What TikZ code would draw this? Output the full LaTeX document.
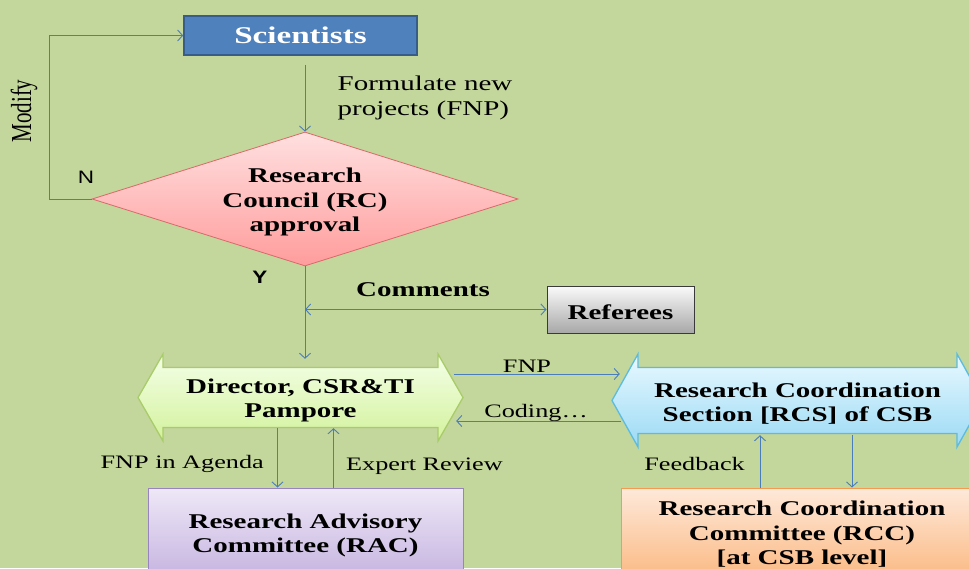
\documentclass[tikz,border=0pt]{standalone}
\usepackage{fontspec}
\setmainfont{Liberation Serif}[FakeStretch=1.38]
\newfontfamily\plainserif{Liberation Serif}
\setsansfont{Liberation Sans}[FakeStretch=1.25]
\usetikzlibrary{arrows.meta,shapes.geometric,calc}
\definecolor{bgc}{HTML}{C3D69B}
\definecolor{connc}{HTML}{4A7EBB}
\definecolor{scif}{HTML}{4F81BD}
\definecolor{scib}{HTML}{385D8A}
\definecolor{diat}{HTML}{FFE0E0}
\definecolor{diab}{HTML}{FF9C9C}
\definecolor{diad}{HTML}{D9696A}
\definecolor{dirt}{HTML}{F4FFE8}
\definecolor{dirbot}{HTML}{D3F29C}
\definecolor{dird}{HTML}{A9CC6A}
\definecolor{rcst}{HTML}{E9F9FF}
\definecolor{rcsbot}{HTML}{9BDAF5}
\definecolor{rcsd}{HTML}{5CBCE0}
\definecolor{reft}{HTML}{FAFAFA}
\definecolor{refbot}{HTML}{A8A8A8}
\definecolor{refd}{HTML}{3A3A3A}
\definecolor{ract}{HTML}{EEE8F7}
\definecolor{racbot}{HTML}{C6B4E0}
\definecolor{racd}{HTML}{9A84C0}
\definecolor{rcct}{HTML}{FEE9DA}
\definecolor{rccbot}{HTML}{FBBB86}
\definecolor{rccd}{HTML}{F59A50}
\newcommand\dblarr[6]{%
  \path[#6] ($(#1)+(-#2,0)$) -- ($(#1)+(-#2+#3,-#4)$) -- ($(#1)+(-#2+#3,-#5)$)
    -- ($(#1)+(#2-#3,-#5)$) -- ($(#1)+(#2-#3,-#4)$) -- ($(#1)+(#2,0)$)
    -- ($(#1)+(#2-#3,#4)$) -- ($(#1)+(#2-#3,#5)$) -- ($(#1)+(-#2+#3,#5)$)
    -- ($(#1)+(-#2+#3,#4)$) -- cycle;}
\tikzset{
  tipb/.tip={Straight Barb[length=5pt,width=11pt]},
  conn/.style={draw=connc, line width=0.9pt, -tipb},
  conn2/.style={draw=connc, line width=0.9pt, tipb-tipb},
  lbl/.style={font=\fontsize{19}{22}\selectfont, inner sep=0pt},
  lblbig/.style={font=\fontsize{21}{25}\selectfont, inner sep=0pt, align=left},
  blbl/.style={font=\bfseries\fontsize{21}{24.5}\selectfont, inner sep=0pt, align=center},
  intext/.style={label={[blbl, yshift=-3pt]center:#1}},
  sanslbl/.style={font=\sffamily\fontsize{18}{20}\selectfont, inner sep=0pt},
  txtbox/.style={rectangle, draw=none, inner sep=0pt},
  dirsty/.style={draw=dird, line width=1.3pt, top color=dirt, bottom color=dirbot},
  rcssty/.style={draw=rcsd, line width=1.3pt, top color=rcst, bottom color=rcsbot},
}
\begin{document}
\begin{tikzpicture}[x=1pt,y=-1pt]
\useasboundingbox (0,0) rectangle (969,568);
\begin{scope}
\clip (0,0) rectangle (969,568);
\fill[bgc] (0,0) rectangle (969,568);

% double-arrow shapes
\coordinate (dirc) at (300.5,397.5);
\coordinate (rcsc) at (797.5,400.5);
\dblarr{dirc}{162.5}{25}{43.5}{30}{dirsty}
\dblarr{rcsc}{185.5}{26}{46.5}{33}{rcssty}

% nodes
\node[draw=scib, line width=1.6pt, fill=scif, minimum width=233, minimum height=39,
      inner sep=0pt, text=white, font=\bfseries\fontsize{24}{28}\selectfont] (sci) at (300.5,35.5) {Scientists};
\node[diamond, aspect=3.2, minimum width=426, minimum height=134, inner sep=0pt,
      draw=diad, line width=0.8pt, top color=diat, bottom color=diab,
      intext={Research\\Council (RC)\\approval}] (dia) at (305,199) {};
\node[draw=refd, line width=1pt, top color=reft, bottom color=refbot, inner sep=0pt,
      minimum width=147, minimum height=47, intext={Referees}] (ref) at (620.5,309.5) {};
\node[txtbox, minimum width=325, minimum height=87, intext={Director, CSR\&TI\\Pampore}] (dir) at (dirc) {};
\node[txtbox, minimum width=371, minimum height=93, intext={Research Coordination\\Section [RCS] of CSB}] (rcs) at (rcsc) {};
\node[draw=racd, line width=1pt, top color=ract, bottom color=racbot, inner sep=0pt,
      minimum width=315, minimum height=89, intext={Research Advisory\\Committee (RAC)}] (rac) at (305.5,532.5) {};
\node[draw=rccd, line width=1pt, top color=rcct, bottom color=rccbot, inner sep=0pt,
      minimum width=362, minimum height=87, intext={Research Coordination\\Committee (RCC)\\{[at CSB level]}}] (rcc) at (802,531.5) {};

% labels
\node[lblbig] (tform) at (425,97.5) {Formulate new\\projects (FNP)};
\node[inner sep=0pt] (tmod) at (24,111) {\rotatebox{90}{\scalebox{1}[1.38]{\plainserif\fontsize{21}{24}\selectfont Modify}}};
\node[sanslbl] (tn) at (86,177) {N};
\node[sanslbl, font=\sffamily\bfseries\fontsize{18}{20}\selectfont] (ty) at (260,277) {Y};
\node[blbl] (tcom) at (423,289.5) {Comments};
\node[lbl] (tfnp) at (527,366) {FNP};
\node[lbl] (tcod) at (536,413) {Coding…};
\node[lbl, anchor=east] (tagenda) at (264,464) {FNP in Agenda};
\node[lbl, anchor=west] (texpert) at (346,466) {Expert Review};
\node[lbl, anchor=east] (tfeed) at (745,464) {Feedback};

% connectors
\draw[conn] ($(sci.south)+(4.5,9)$) -- (dia.north);
\draw[conn] (dia.west) -- ++(-42,0) |- (sci.west);
\draw[conn] (dia.south) -- ($(dia.south |- dir.north)+(0,5)$);
\coordinate (cmt) at (dia.south |- ref.west);
\draw[conn2] (cmt) -- (ref.west);
\draw[conn] ($(dir.east)+(-9,-23.5)$) -- ($(rcs.west)+(8,-26.5)$);
\draw[conn] ($(rcs.west)+(9,20.5)$) -- ($(dir.east)+(-7,23.5)$);
\draw[conn] ($(dir.south)+(-23,-13)$) -- ($(rac.north)+(-28,0)$);
\draw[conn] ($(rac.north)+(28,0)$) -- ($(dir.south)+(33,-13)$);
\draw[conn] ($(rcc.north)+(-42,0)$) -- ($(rcs.south)+(-37.5,-12)$);
\draw[conn] ($(rcs.south)+(54.5,-12)$) -- ($(rcc.north)+(50,0)$);
\end{scope}
\end{tikzpicture}
\end{document}
